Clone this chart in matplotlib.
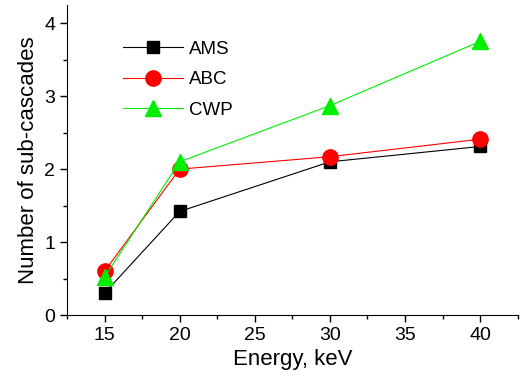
import matplotlib.pyplot as plt
from matplotlib.ticker import MultipleLocator

plt.rcParams['font.family'] = ['Liberation Sans', 'DejaVu Sans']

# Data
energy = [15, 20, 30, 40]
ams = [0.30, 1.42, 2.10, 2.31]
abc = [0.60, 2.00, 2.17, 2.41]
cwp = [0.52, 2.10, 2.87, 3.75]

fig = plt.figure(figsize=(5.23, 3.76), dpi=100)
ax = fig.add_axes([0.128, 0.162, 0.862, 0.825])

ax.plot(energy, ams, color='black', lw=0.8, marker='s', ms=9, mfc='black', mec='black', label='AMS')
ax.plot(energy, abc, color='red', lw=0.8, marker='o', ms=11, mfc='red', mec='red', label='ABC')
ax.plot(energy, cwp, color='#00ee00', lw=0.8, marker='^', ms=12, mfc='#00ee00', mec='#00ee00', label='CWP')

ax.set_xlim(12.5, 42.5)
ax.set_ylim(0, 4.25)
ax.xaxis.set_major_locator(MultipleLocator(5))
ax.xaxis.set_minor_locator(MultipleLocator(2.5))
ax.yaxis.set_major_locator(MultipleLocator(1))
ax.yaxis.set_minor_locator(MultipleLocator(0.5))
ax.tick_params(which='both', direction='out', labelsize=14, width=1)
ax.tick_params(which='major', length=5)
ax.tick_params(which='minor', length=3)
for s in ['top', 'right']:
    ax.spines[s].set_visible(False)

ax.set_xlabel('Energy, keV', fontsize=16, labelpad=4)
ax.set_ylabel('Number of sub-cascades', fontsize=16, labelpad=4)

ax.legend(loc='upper left', bbox_to_anchor=(0.087, 0.94), frameon=False, fontsize=13.5,
          handlelength=3.2, labelspacing=0.72, handletextpad=0.3)

fig.savefig('out.png', dpi=100)
